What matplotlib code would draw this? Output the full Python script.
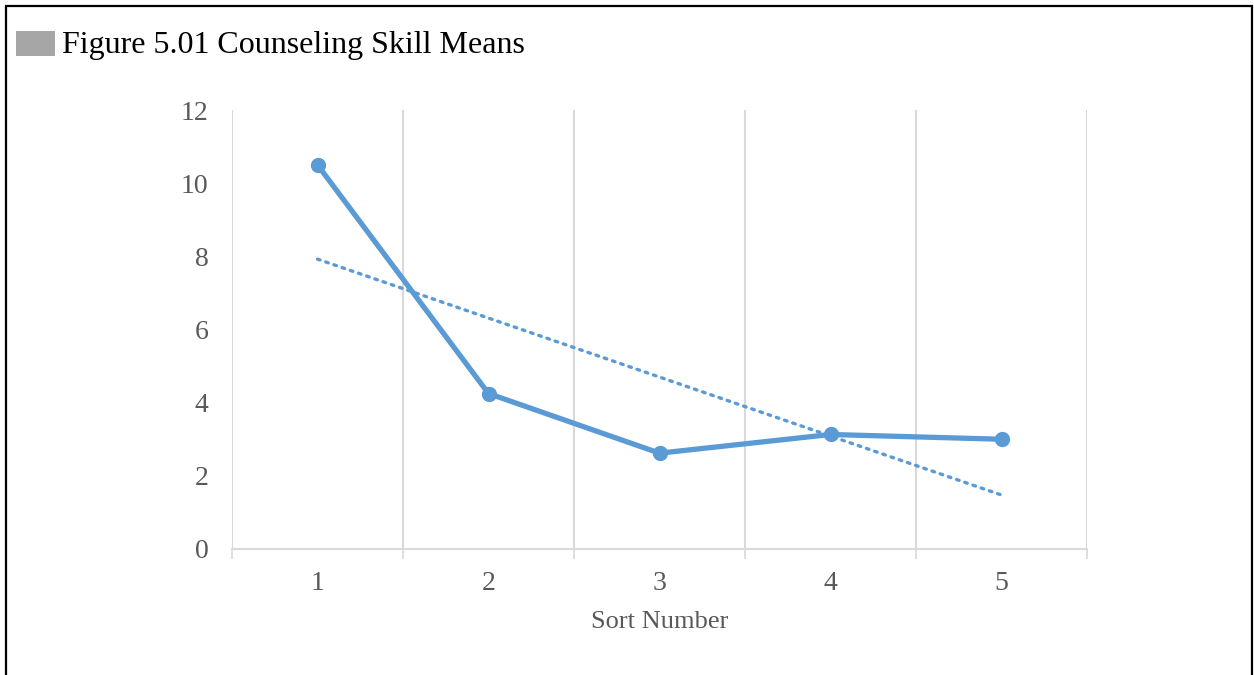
import numpy as np
import matplotlib.pyplot as plt
from matplotlib.patches import Rectangle

# data
sort_numbers = [1, 2, 3, 4, 5]
skill_means = [10.5, 4.25, 2.62, 3.13, 3.0]
y_ticks = [0, 2, 4, 6, 8, 10, 12]

blue = '#5B9BD5'
grid_gray = '#D9D9D9'
text_gray = '#595959'

plt.rcParams['font.family'] = ['Liberation Serif', 'DejaVu Serif']

fig = plt.figure(figsize=(12.54, 6.75), dpi=100)
ax = fig.add_axes([232 / 1254, 126 / 675, 855 / 1254, 439 / 675])

# main series
ax.plot(sort_numbers, skill_means, color=blue, linewidth=3.8,
        marker='o', markersize=10, zorder=4, solid_capstyle='round')

# linear trendline
slope, intercept = np.polyfit(sort_numbers, skill_means, 1)
x_arr = np.array(sort_numbers, dtype=float)
ax.plot(x_arr, slope * x_arr + intercept, color=blue, linewidth=2.4,
        linestyle=(0, (0.8, 1.8)), dash_capstyle='round', zorder=3)

ax.set_xlim(0.5, 5.5)
ax.set_ylim(0, 12)

# category boundaries: gridlines + tick marks
bounds = np.arange(0.5, 6.0, 1.0)
ax.set_xticks(bounds)
ax.set_xticklabels([])
ax.set_xticks(sort_numbers, minor=True)
ax.set_xticklabels([str(s) for s in sort_numbers], minor=True)
ax.tick_params(axis='x', which='major', length=7, width=1.2, color=grid_gray)
ax.tick_params(axis='x', which='minor', length=0, pad=15.5,
               labelsize=20, labelcolor=text_gray)
ax.grid(axis='x', which='major', color=grid_gray, linewidth=1.5)

ax.set_yticks(y_ticks)
ax.tick_params(axis='y', length=0, pad=17, labelsize=20, labelcolor=text_gray)

for side in ['top', 'right', 'left']:
    ax.spines[side].set_visible(False)
ax.spines['bottom'].set_color(grid_gray)
ax.spines['bottom'].set_linewidth(1.5)

ax.set_xlabel('Sort Number', fontsize=19, color=text_gray, labelpad=11)

# title with gray square
fig.patches.append(Rectangle((16 / 1254, 1 - 56 / 675), 39 / 1254, 25 / 675,
                             transform=fig.transFigure, facecolor='#A6A6A6',
                             edgecolor='none'))
fig.text(62 / 1254, 1 - 45 / 675, 'Figure 5.01 Counseling Skill Means',
         fontsize=23, color='black', va='center', ha='left')

# outer frame
fig.patches.append(Rectangle((6 / 1254, -0.05), 1246 / 1254, 1.05 - 6 / 675,
                             transform=fig.transFigure, facecolor='none',
                             edgecolor='black', linewidth=1.6, clip_on=False))

plt.savefig('out.png', dpi=100)
plt.close()
